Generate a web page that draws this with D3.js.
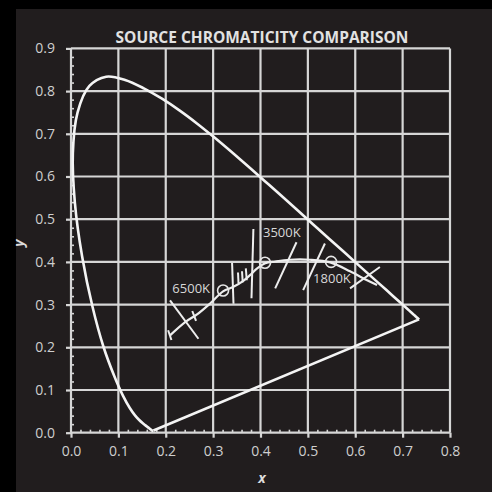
<!DOCTYPE html>
<html>
<head>
<meta charset="utf-8">
<script src="https://cdn.jsdelivr.net/npm/d3@7/dist/d3.min.js"></script>
<style>
  html, body { margin: 0; padding: 0; background: #000; }
  svg { display: block; }
  text { font-family: "Open Sans", "DejaVu Sans", sans-serif; }
</style>
</head>
<body>
<svg id="chart" width="492" height="492"></svg>
<script>
// CIE 1931 2° spectral locus, 380–700 nm (x, y)
const spectralLocus = [
  [0.1741,0.0050],[0.1740,0.0050],[0.1738,0.0049],[0.1736,0.0049],[0.1733,0.0048],
  [0.1730,0.0048],[0.1726,0.0048],[0.1721,0.0048],[0.1714,0.0051],[0.1703,0.0058],
  [0.1689,0.0069],[0.1669,0.0086],[0.1644,0.0109],[0.1611,0.0138],[0.1566,0.0177],
  [0.1510,0.0227],[0.1440,0.0297],[0.1355,0.0399],[0.1241,0.0578],[0.1096,0.0868],
  [0.0913,0.1327],[0.0687,0.2007],[0.0454,0.2950],[0.0235,0.4127],[0.0082,0.5384],
  [0.0039,0.6548],[0.0139,0.7502],[0.0389,0.8120],[0.0743,0.8338],[0.1142,0.8262],
  [0.1547,0.8059],[0.1929,0.7816],[0.2296,0.7543],[0.2658,0.7243],[0.3016,0.6923],
  [0.3373,0.6589],[0.3731,0.6245],[0.4087,0.5896],[0.4441,0.5547],[0.4788,0.5202],
  [0.5125,0.4866],[0.5448,0.4544],[0.5752,0.4242],[0.6029,0.3965],[0.6270,0.3725],
  [0.6482,0.3514],[0.6658,0.3340],[0.6801,0.3197],[0.6915,0.3083],[0.7006,0.2993],
  [0.7079,0.2920],[0.7140,0.2859],[0.7190,0.2809],[0.7230,0.2770],[0.7260,0.2740],
  [0.7300,0.2700],[0.7320,0.2680],[0.7334,0.2666],[0.7347,0.2653]
];

// Blackbody (Planckian) locus, high CCT on the left to low CCT on the right
const planckLocus = [
  [0.209,0.228],[0.241,0.259],[0.266,0.277],[0.293,0.302],[0.321,0.331],
  [0.342,0.341],[0.363,0.355],[0.378,0.369],[0.393,0.385],[0.410,0.397],
  [0.431,0.401],[0.462,0.405],[0.504,0.405],[0.547,0.399],[0.589,0.378],
  [0.625,0.357],[0.646,0.346]
];

// Isotemperature lines crossing the locus: [x1, y1, x2, y2]
const isotherms = [
  [0.205,0.240,0.212,0.217],
  [0.209,0.310,0.269,0.220],
  [0.256,0.285,0.264,0.262],
  [0.340,0.398,0.343,0.302],
  [0.3525,0.375,0.3536,0.350],
  [0.361,0.378,0.3625,0.352],
  [0.369,0.385,0.371,0.357],
  [0.385,0.477,0.381,0.315],
  [0.476,0.446,0.431,0.338],
  [0.536,0.443,0.490,0.334],
  [0.652,0.388,0.589,0.338]
];

// Source chromaticities
const sourceNames = ["6500K", "3500K", "1800K"];
const sourceX = [0.321, 0.4095, 0.549];
const sourceY = [0.333, 0.398, 0.400];

// Axis ticks
const xTicks = [0, 0.1, 0.2, 0.3, 0.4, 0.5, 0.6, 0.7, 0.8];
const yTicks = [0, 0.1, 0.2, 0.3, 0.4, 0.5, 0.6, 0.7, 0.8, 0.9];
const xMinor = d3.range(1, 40).map(i => i * 0.02).filter(v => Math.abs(v * 10 - Math.round(v * 10)) > 1e-6);
const yMinor = d3.range(1, 45).map(i => i * 0.02).filter(v => Math.abs(v * 10 - Math.round(v * 10)) > 1e-6);

const svg = d3.select("#chart");

// dark panel
svg.append("rect").attr("x", 16).attr("y", 9).attr("width", 476).attr("height", 483).attr("fill", "#211d1e");

const x = d3.scaleLinear().domain([0, 0.8]).range([71, 450]);
const y = d3.scaleLinear().domain([0, 0.9]).range([432.7, 48.4]);

// grid
const grid = svg.append("g").attr("stroke", "#d6d6d6").attr("stroke-width", 2.2);
grid.selectAll(".gx").data(xTicks).join("line")
  .attr("x1", d => x(d)).attr("x2", d => x(d))
  .attr("y1", y(0)).attr("y2", y(0.9));
grid.selectAll(".gy").data(yTicks).join("line")
  .attr("y1", d => y(d)).attr("y2", d => y(d))
  .attr("x1", x(0)).attr("x2", x(0.8));

// axes
function styleAxis(g) {
  g.select(".domain").remove();
  g.selectAll(".tick line").attr("stroke", "#d6d6d6").attr("stroke-width", 2.2);
  g.selectAll(".tick text").attr("fill", "#cfcfcf").attr("font-size", 14);
}
svg.append("g").attr("transform", `translate(0,${y(0)})`)
  .call(d3.axisBottom(x).tickValues(xTicks).tickSize(5).tickPadding(8).tickFormat(d3.format(".1f")))
  .call(styleAxis);
svg.append("g").attr("transform", `translate(${x(0)},0)`)
  .call(d3.axisLeft(y).tickValues(yTicks).tickSize(5).tickPadding(11).tickFormat(d3.format(".1f")))
  .call(styleAxis);
// minor ticks, pointing inward
svg.append("g").attr("transform", `translate(0,${y(0)})`)
  .call(d3.axisBottom(x).tickValues(xMinor).tickSize(-3).tickFormat(""))
  .call(g => { g.select(".domain").remove(); g.selectAll(".tick line").attr("stroke", "#d6d6d6").attr("stroke-width", 1.6); });
svg.append("g").attr("transform", `translate(${x(0)},0)`)
  .call(d3.axisLeft(y).tickValues(yMinor).tickSize(-3).tickFormat(""))
  .call(g => { g.select(".domain").remove(); g.selectAll(".tick line").attr("stroke", "#d6d6d6").attr("stroke-width", 1.6); });

// spectral locus closed by the line of purples
const locusLine = d3.line().x(d => x(d[0])).y(d => y(d[1])).curve(d3.curveCatmullRom.alpha(0.5));
svg.append("path")
  .attr("d", locusLine(spectralLocus))
  .attr("fill", "none").attr("stroke", "#f4f4f4").attr("stroke-width", 2.6);
const last = spectralLocus[spectralLocus.length - 1], first = spectralLocus[0];
svg.append("line")
  .attr("x1", x(last[0])).attr("y1", y(last[1])).attr("x2", x(first[0])).attr("y2", y(first[1]))
  .attr("stroke", "#f4f4f4").attr("stroke-width", 2.6);

// blackbody locus
svg.append("path")
  .attr("d", locusLine(planckLocus))
  .attr("fill", "none").attr("stroke", "#eeeeee").attr("stroke-width", 2.2);

svg.append("g").selectAll("line").data(isotherms).join("line")
  .attr("x1", d => x(d[0])).attr("y1", d => y(d[1]))
  .attr("x2", d => x(d[2])).attr("y2", d => y(d[3]))
  .attr("stroke", "#eeeeee").attr("stroke-width", 2);

// source markers and labels
const labelOffsets = [[-13, 2, "end"], [-2, -26, "start"], [-18, 21, "start"]];
const src = svg.append("g");
sourceNames.forEach((name, i) => {
  src.append("circle")
    .attr("cx", x(sourceX[i])).attr("cy", y(sourceY[i])).attr("r", 5.5)
    .attr("fill", "none").attr("stroke", "#e6e6e6").attr("stroke-width", 1.6);
  src.append("text")
    .attr("x", x(sourceX[i]) + labelOffsets[i][0]).attr("y", y(sourceY[i]) + labelOffsets[i][1])
    .attr("text-anchor", labelOffsets[i][2])
    .attr("fill", "#d8d8d8").attr("font-size", 13)
    .text(name);
});

// title and axis names
svg.append("text").attr("x", 262).attr("y", 43).attr("text-anchor", "middle")
  .attr("fill", "#e2e2e2").attr("font-size", 15.5).attr("font-weight", "bold")
  .text("SOURCE CHROMATICITY COMPARISON");
svg.append("text").attr("x", 262).attr("y", 483).attr("text-anchor", "middle")
  .attr("fill", "#dcdcdc").attr("font-size", 14).attr("font-weight", "bold").attr("font-style", "italic")
  .text("x");
svg.append("text").attr("transform", "translate(24,243) rotate(-90)").attr("text-anchor", "middle")
  .attr("fill", "#dcdcdc").attr("font-size", 14).attr("font-weight", "bold").attr("font-style", "italic")
  .text("y");
</script>
</body>
</html>
